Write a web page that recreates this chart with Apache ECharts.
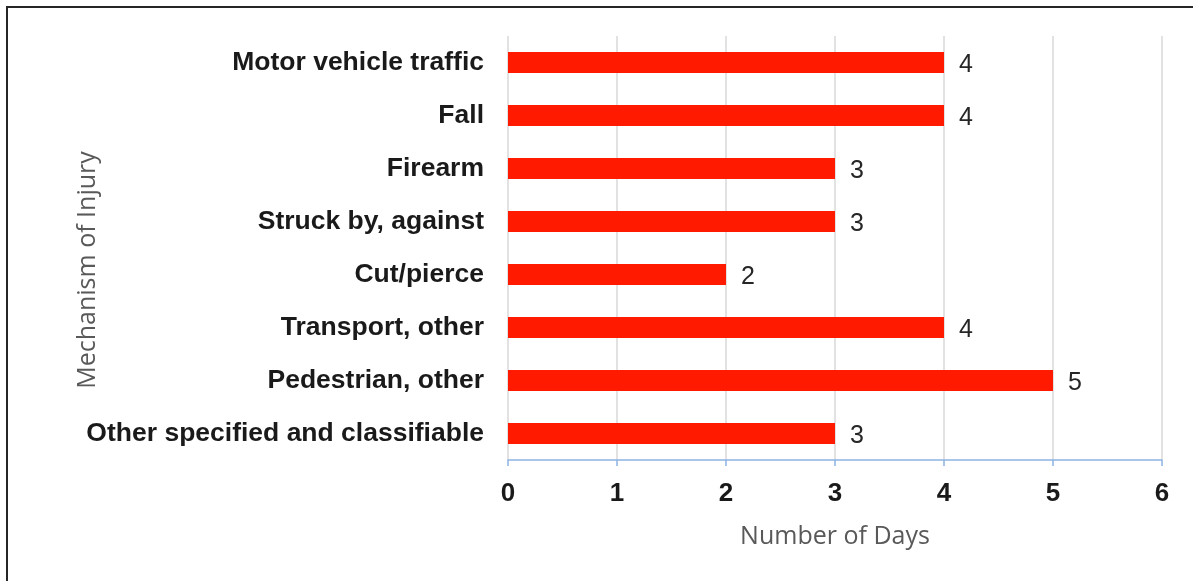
<!DOCTYPE html>
<html>
<head>
<meta charset="utf-8">
<script src="https://cdn.jsdelivr.net/npm/echarts@6/dist/echarts.min.js"></script>
<style>
  html, body { margin: 0; padding: 0; background: #fff; }
  #frame { position: absolute; left: 6px; top: 6px; width: 1187px; height: 575px;
           border-left: 2px solid #262626; border-top: 2px solid #262626; box-sizing: border-box; }
  #chart { position: absolute; left: 0; top: 0; width: 1193px; height: 581px; }
</style>
</head>
<body>
<div id="chart"></div>
<div id="frame"></div>
<script>
// Injury mechanisms and the number of days recorded for each
const categories = [
  'Motor vehicle traffic',
  'Fall',
  'Firearm',
  'Struck by, against',
  'Cut/pierce',
  'Transport, other',
  'Pedestrian, other',
  'Other specified and classifiable'
];
const days = [4, 4, 3, 3, 2, 4, 5, 3];
const xTicks = [0, 1, 2, 3, 4, 5, 6];

const chart = echarts.init(document.getElementById('chart'), null, { renderer: 'canvas' });
chart.setOption({
  animation: false,
  grid: { left: 508, right: 31, top: 36, bottom: 121, containLabel: false },
  graphic: [{
    // vertical axis title, centred on the plot plus its tick labels
    type: 'text',
    rotation: Math.PI / 2,
    position: [88, 270],
    style: {
      text: 'Mechanism of Injury',
      fontFamily: 'Open Sans', fontSize: 25, fill: '#595959',
      textAlign: 'center', textVerticalAlign: 'middle'
    }
  }],
  xAxis: {
    type: 'value',
    min: xTicks[0],
    max: xTicks[xTicks.length - 1],
    interval: 1,
    name: 'Number of Days',
    nameLocation: 'middle',
    nameGap: 64,
    nameTextStyle: { fontFamily: 'Open Sans', fontSize: 25, color: '#595959' },
    axisLine: { show: true, lineStyle: { color: '#8db3e2', width: 1.5 } },
    axisTick: { show: true, length: 6, lineStyle: { color: '#8db3e2', width: 1.5 } },
    axisLabel: {
      margin: 21,
      fontFamily: 'Liberation Sans', fontWeight: 'bold', fontSize: 26, color: '#1a1a1a'
    },
    splitLine: { show: true, lineStyle: { color: '#d9d9d9', width: 1.5 } }
  },
  yAxis: {
    type: 'category',
    data: categories,
    inverse: true,
    axisLine: { show: false },
    axisTick: { show: false },
    axisLabel: {
      margin: 24,
      padding: [4, 0, 0, 0],
      fontFamily: 'Liberation Sans', fontWeight: 'bold', fontSize: 26.5, color: '#1a1a1a'
    }
  },
  series: [{
    type: 'bar',
    data: days,
    barWidth: 21,
    itemStyle: { color: '#ff1a00' },
    label: {
      show: true,
      position: 'right',
      distance: 15,
      offset: [0, 3],
      fontFamily: 'Liberation Sans', fontSize: 25, color: '#262626'
    }
  }]
});
</script>
</body>
</html>
